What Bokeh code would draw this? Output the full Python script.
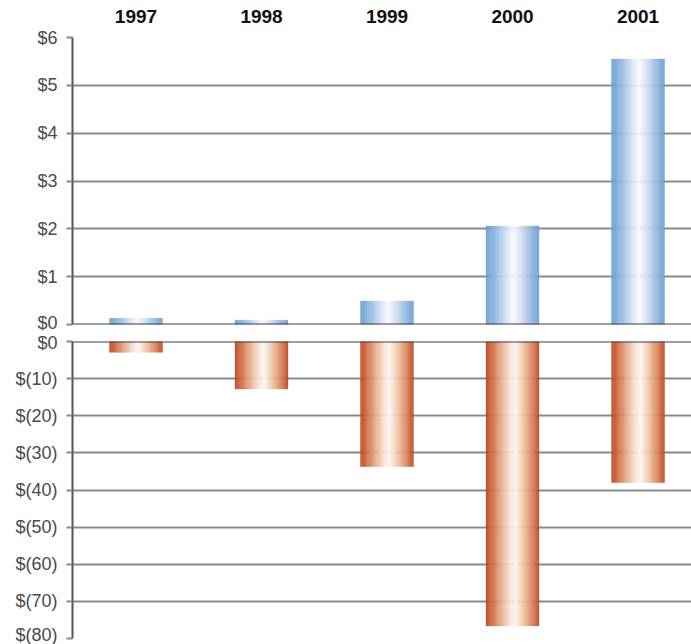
from bokeh.plotting import figure
from bokeh.layouts import column
from bokeh.models import Range1d, FixedTicker, Span
from bokeh.embed import file_html
from bokeh.resources import INLINE

# ---- data ----
years = ["1997", "1998", "1999", "2000", "2001"]
top_values = [0.13, 0.09, 0.49, 2.06, 5.55]
bottom_values = [-2.9, -12.8, -33.7, -76.6, -38.0]
top_ticks = [0, 1, 2, 3, 4, 5, 6]
top_tick_labels = ["$0", "$1", "$2", "$3", "$4", "$5", "$6"]
bottom_ticks = [0, -10, -20, -30, -40, -50, -60, -70, -80]
bottom_tick_labels = ["$0", "$(10)", "$(20)", "$(30)", "$(40)", "$(50)", "$(60)", "$(70)", "$(80)"]

FONT = "Liberation Sans"
BAR_W = 0.422
N_STRIPES = 60

blue_stops = [(0.0, (104, 158, 210)), (0.2, (150, 188, 228)), (0.4, (218, 229, 245)),
              (0.52, (250, 250, 255)), (0.65, (218, 228, 244)), (0.85, (150, 186, 226)),
              (1.0, (106, 158, 210))]
orange_stops = [(0.0, (192, 68, 30)), (0.12, (208, 106, 64)), (0.3, (232, 176, 144)),
                (0.45, (248, 226, 214)), (0.55, (255, 248, 242)), (0.7, (240, 200, 168)),
                (0.88, (216, 128, 88)), (1.0, (192, 72, 30))]


def grad(stops, t):
    for (t0, c0), (t1, c1) in zip(stops[:-1], stops[1:]):
        if t0 <= t <= t1:
            f = (t - t0) / (t1 - t0) if t1 > t0 else 0
            c = [round(a + (b - a) * f) for a, b in zip(c0, c1)]
            return "#%02x%02x%02x" % tuple(c)
    return "#%02x%02x%02x" % stops[-1][1]


def stripes(values, stops):
    L, R, T, B, C = [], [], [], [], []
    for i, v in enumerate(values):
        left0 = i - BAR_W / 2
        for k in range(N_STRIPES):
            L.append(left0 + BAR_W * k / N_STRIPES)
            R.append(left0 + BAR_W * (k + 1) / N_STRIPES)
            T.append(max(v, 0))
            B.append(min(v, 0))
            C.append(grad(stops, (k + 0.5) / N_STRIPES))
    return dict(left=L, right=R, top=T, bottom=B, color=C)


def style_left_axis(ax):
    ax.axis_line_color = "#555555"
    ax.axis_line_width = 2
    ax.major_tick_out = 6
    ax.major_tick_in = 0
    ax.major_tick_line_color = "#888888"
    ax.major_tick_line_width = 2
    ax.minor_tick_line_color = None
    ax.major_label_text_font = FONT
    ax.major_label_text_font_size = "18px"
    ax.major_label_text_color = "#4a4a4a"
    ax.major_label_standoff = 9


x_range = Range1d(-0.506, 4.426)

# ---- top panel ----
p1 = figure(width=691, height=332, output_backend="svg", toolbar_location=None,
            x_range=x_range, y_range=Range1d(0, 6), x_axis_location="above",
            min_border_left=72, min_border_right=0, min_border_top=37, min_border_bottom=8)
p1.outline_line_color = None
p1.xaxis.ticker = FixedTicker(ticks=list(range(len(years))))
p1.xaxis.major_label_overrides = {i: y for i, y in enumerate(years)}
p1.xaxis.axis_line_color = None
p1.xaxis.major_tick_line_color = None
p1.xaxis.minor_tick_line_color = None
p1.xaxis.major_label_text_font = FONT
p1.xaxis.major_label_text_font_size = "19px"
p1.xaxis.major_label_text_font_style = "bold"
p1.xaxis.major_label_text_color = "#111111"
p1.xaxis.major_label_standoff = 9
p1.xgrid.grid_line_color = None
p1.yaxis.ticker = FixedTicker(ticks=top_ticks)
p1.yaxis.major_label_overrides = dict(zip(top_ticks, top_tick_labels))
style_left_axis(p1.yaxis[0])
p1.ygrid.ticker = FixedTicker(ticks=[t for t in top_ticks if 0 < t < 6])
p1.ygrid.grid_line_color = "#8a8a8a"
p1.ygrid.grid_line_width = 2

s1 = stripes(top_values, blue_stops)
p1.quad(left="left", right="right", top="top", bottom="bottom", fill_color="color",
        line_color="color", line_width=0.3, source=s1)
p1.add_layout(Span(location=0, dimension="width", line_color="#404040", line_width=2))

# ---- bottom panel ----
p2 = figure(width=691, height=312, output_backend="svg", toolbar_location=None,
            x_range=x_range, y_range=Range1d(-80, 0), x_axis_location=None,
            min_border_left=72, min_border_right=0, min_border_top=9, min_border_bottom=6)
p2.outline_line_color = None
p2.xgrid.grid_line_color = None
p2.yaxis.ticker = FixedTicker(ticks=bottom_ticks)
p2.yaxis.major_label_overrides = dict(zip(bottom_ticks, bottom_tick_labels))
style_left_axis(p2.yaxis[0])
p2.ygrid.ticker = FixedTicker(ticks=[t for t in bottom_ticks if t < 0])
p2.ygrid.grid_line_color = "#8a8a8a"
p2.ygrid.grid_line_width = 2

s2 = stripes(bottom_values, orange_stops)
p2.quad(left="left", right="right", top="top", bottom="bottom", fill_color="color",
        line_color="color", line_width=0.3, source=s2)
p2.add_layout(Span(location=0, dimension="width", line_color="#404040", line_width=2))

layout = column(p1, p2, spacing=0)
open("out.html", "w").write(file_html(layout, INLINE))
